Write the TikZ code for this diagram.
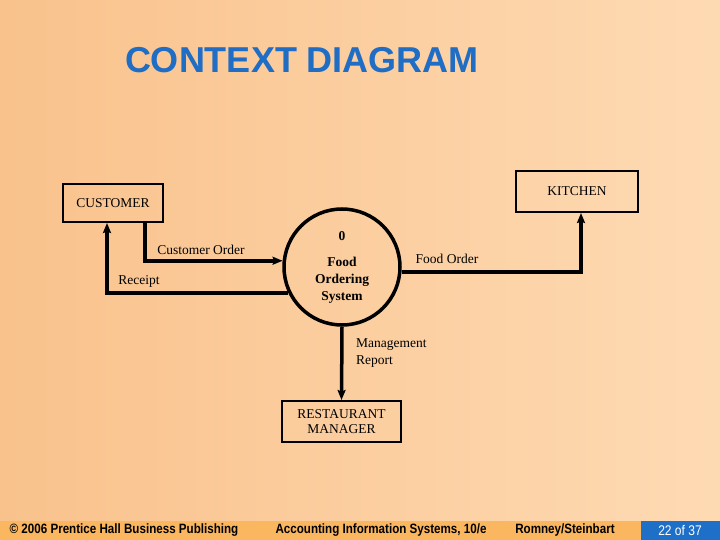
\documentclass[tikz,border=0pt]{standalone}
\usepackage{fontspec}
\setmainfont{Liberation Serif}
\newfontfamily\headfont{Liberation Sans}
\newfontfamily\footfont[FakeStretch=0.86]{Liberation Sans}
\usetikzlibrary{positioning,arrows.meta}

\definecolor{bgleft}{HTML}{F9C28C}
\definecolor{bgright}{HTML}{FEDAB3}
\definecolor{titleblue}{HTML}{1F6DC4}
\definecolor{footorange}{HTML}{FBB660}
\definecolor{footblue}{HTML}{1E6FC8}

\begin{document}
\begin{tikzpicture}[
  x=1pt, y=-1pt,
  >={Stealth[length=10pt, width=8pt, inset=1.5pt]},
  entity/.style={rectangle, draw, line width=2pt, align=center, font=\fontsize{13.5}{16}\selectfont, inner sep=2pt},
  process/.style={circle, draw, line width=3.5pt, minimum size=116pt, align=center, font=\fontsize{13.5}{17}\selectfont\bfseries, inner sep=0pt},
  flow/.style={->, line width=3.5pt},
  lbl/.style={font=\fontsize{13.5}{17}\selectfont, inner sep=0pt},
  foot/.style={font=\footfont\fontsize{13.5}{15}\selectfont\bfseries, inner sep=0pt},
]
  % Background and footer bar
  \useasboundingbox (0,0) rectangle (720,540);
  \shade[left color=bgleft, right color=bgright] (0,0) rectangle (720,540);
  \fill[footorange] (0,521) rectangle (720,540);
  \fill[footblue] (641,521) rectangle (720,540);

  % Title
  \node[font=\headfont\fontsize{36}{40}\selectfont\bfseries, text=titleblue] (title) at (302,60) {CONTEXT DIAGRAM};

  % External entities
  \node[entity, minimum width=100pt, minimum height=38pt] (customer) at (113,203) {CUSTOMER};
  \node[entity, minimum width=122pt, minimum height=41pt] (kitchen) at (577,191.5) {KITCHEN};
  \node[entity, minimum width=119pt, minimum height=41pt] (manager) at (341.5,421.5) {RESTAURANT\\[-1pt]MANAGER};

  % Process
  \node[process] (system) at (342,267) {0\\[9pt]Food\\Ordering\\System};

  % Flows
  \draw[flow] ([xshift=32pt]customer.south) |- (system.174);
  \draw[flow] (system.206) -| ([xshift=-6pt]customer.south);
  \draw[flow] (system.-5) -| ([xshift=4pt]kitchen.south);
  \draw[flow] (system.south) -- (manager.north);

  % Flow labels
  \node[lbl] (orderlbl) at (201,250) {Customer Order};
  \node[lbl] (receiptlbl) at (139,281) {Receipt};
  \node[lbl] (foodlbl) at (447,259) {Food Order};
  \node[lbl, anchor=west, align=left] (reportlbl) at (356,353.5) {Management\\Report};

  % Footer texts
  \node[foot] (copy) at (124,530.5) {\textcopyright\ 2006 Prentice Hall Business Publishing};
  \node[foot] (book) at (381,530.5) {Accounting Information Systems, 10/e};
  \node[foot] (authors) at (565,530.5) {Romney/Steinbart};
  \node[foot, text=white, font=\footfont\fontsize{14}{15}\selectfont] (page) at (680,530.5) {22 of 37};
\end{tikzpicture}
\end{document}
